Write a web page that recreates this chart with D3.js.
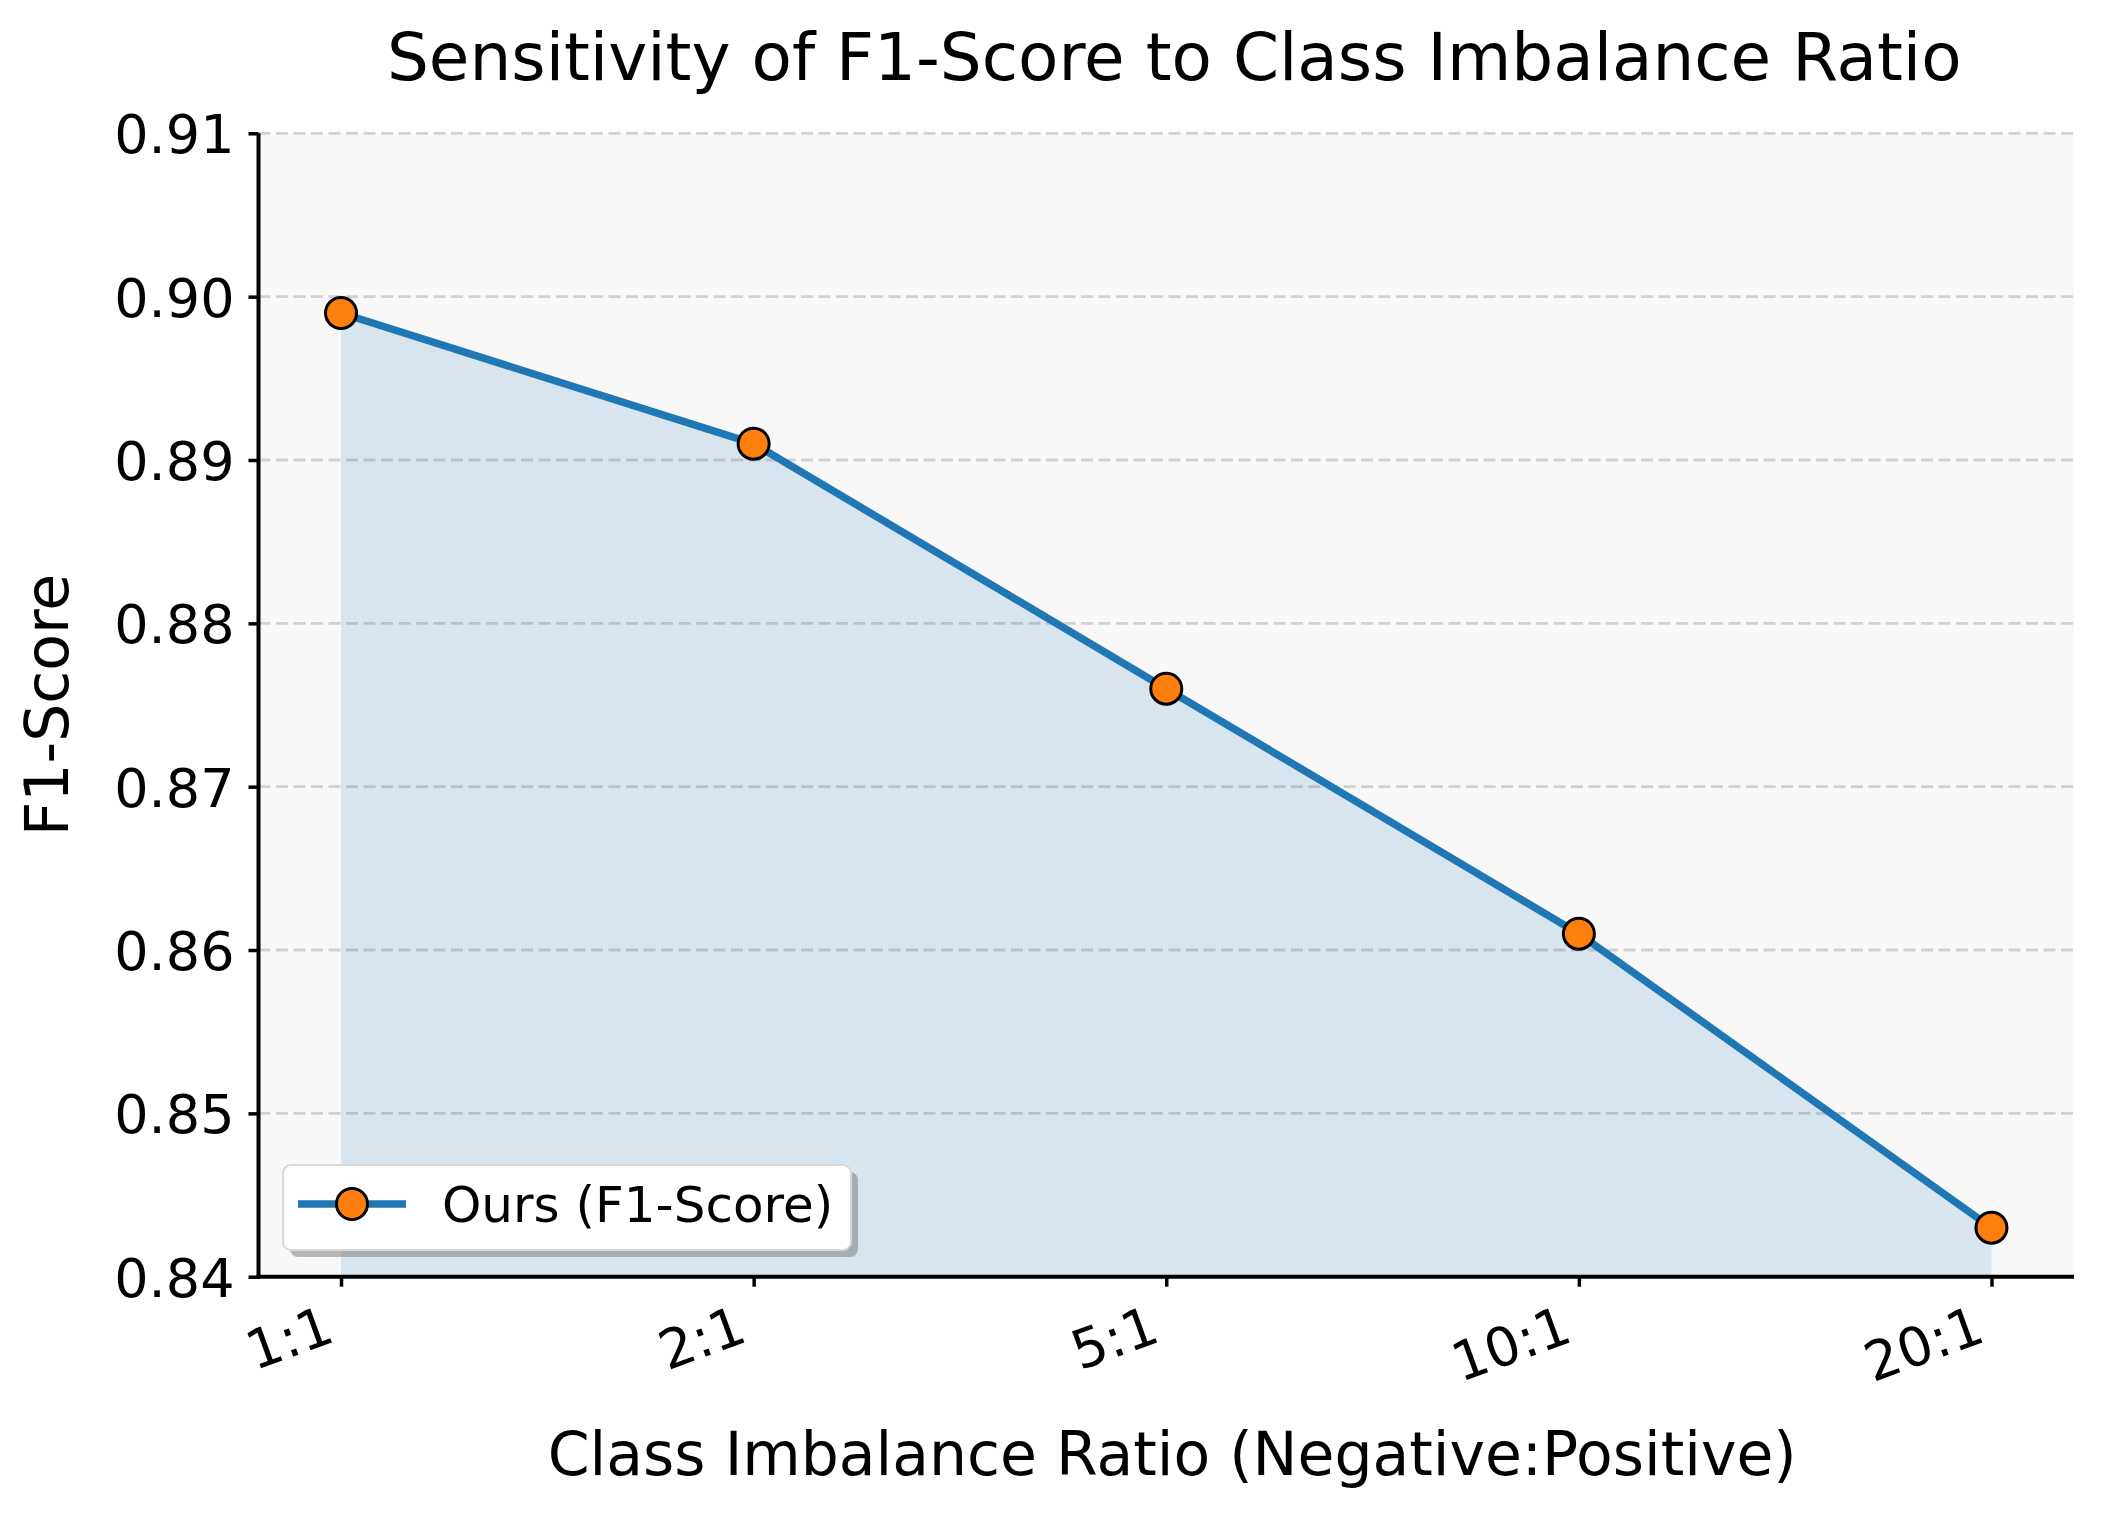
<!DOCTYPE html>
<html>
<head>
<meta charset="utf-8">
<script src="https://cdn.jsdelivr.net/npm/d3@7"></script>
<style>
  html, body { margin: 0; padding: 0; background: #ffffff; }
  svg { display: block; font-family: "DejaVu Sans", sans-serif; }
</style>
</head>
<body>
<svg id="chart" width="2106" height="1520"></svg>
<script>
// ---- data ----
const categories = ["1:1", "2:1", "5:1", "10:1", "20:1"];
const f1Scores = [0.899, 0.891, 0.876, 0.861, 0.843];
const yTicks = [0.84, 0.85, 0.86, 0.87, 0.88, 0.89, 0.90, 0.91];
const titleText = "Sensitivity of F1-Score to Class Imbalance Ratio";
const xLabelText = "Class Imbalance Ratio (Negative:Positive)";
const yLabelText = "F1-Score";
const legendLabel = "Ours (F1-Score)";

// ---- layout ----
const W = 2106, H = 1520;
const margin = { left: 258.5, right: W - 2074, top: 133.3, bottom: H - 1276.7 };
const plotW = W - margin.left - margin.right;
const plotH = H - margin.top - margin.bottom;

const svg = d3.select("#chart");

const g = svg.append("g").attr("transform", `translate(${margin.left},${margin.top})`);

const x = d3.scalePoint().domain(categories).range([0, plotW]).padding(0.2);
const y = d3.scaleLinear().domain([0.84, 0.91]).range([plotH, 0]);

// background
g.append("rect").attr("x", 0).attr("y", 0).attr("width", plotW).attr("height", plotH)
  .attr("fill", "#f8f8f8");

// grid
g.append("g").selectAll("line").data(yTicks.filter(d => d > 0.84)).join("line")
  .attr("x1", 0).attr("x2", plotW)
  .attr("y1", d => y(d)).attr("y2", d => y(d))
  .attr("stroke", "#c4c4c4").attr("stroke-opacity", 0.75)
  .attr("stroke-width", 2.8).attr("stroke-dasharray", "12,5.5");

const data = categories.map((c, i) => ({ c, v: f1Scores[i] }));

// area fill
const area = d3.area().x(d => x(d.c)).y0(y(0.84)).y1(d => y(d.v));
g.append("path").datum(data).attr("d", area)
  .attr("fill", "#1f77b4").attr("fill-opacity", 0.15);

// line
const line = d3.line().x(d => x(d.c)).y(d => y(d.v));
g.append("path").datum(data).attr("d", line)
  .attr("fill", "none").attr("stroke", "#1f77b4").attr("stroke-width", 7.5)
  .attr("stroke-linejoin", "round");

// markers
g.append("g").selectAll("circle").data(data).join("circle")
  .attr("cx", d => x(d.c)).attr("cy", d => y(d.v)).attr("r", 15.5)
  .attr("fill", "#ff7f0e").attr("stroke", "#000").attr("stroke-width", 3);

// axes
const yAxis = d3.axisLeft(y).tickValues(yTicks).tickFormat(d3.format(".2f"))
  .tickSize(10).tickPadding(14);
const yg = g.append("g").call(yAxis);
yg.select(".domain").remove();
yg.selectAll(".tick line").attr("stroke", "#000").attr("stroke-width", 3.5);
yg.selectAll(".tick text").attr("font-size", 54).attr("fill", "#000")
  .attr("font-family", "DejaVu Sans").attr("dy", "0.36em");

const xAxis = d3.axisBottom(x).tickSize(10).tickPadding(0);
const xg = g.append("g").attr("transform", `translate(0,${plotH})`).call(xAxis);
xg.select(".domain").remove();
xg.selectAll(".tick line").attr("stroke", "#000").attr("stroke-width", 3.5);
xg.selectAll(".tick text").attr("font-size", 54).attr("fill", "#000")
  .attr("font-family", "DejaVu Sans")
  .attr("text-anchor", "end").attr("dy", null).attr("y", null)
  .attr("transform", "translate(-5,64) rotate(-20)");

// spines
g.append("line").attr("x1", 0).attr("x2", 0).attr("y1", 0).attr("y2", plotH + 2)
  .attr("stroke", "#000").attr("stroke-width", 4);
g.append("line").attr("x1", -2).attr("x2", plotW).attr("y1", plotH).attr("y2", plotH)
  .attr("stroke", "#000").attr("stroke-width", 4);

// legend
const lg = g.append("g").attr("transform", `translate(${283 - margin.left},${1165 - margin.top})`);
const lw = 568, lh = 85;
lg.append("rect").attr("x", 7).attr("y", 7).attr("width", lw).attr("height", lh)
  .attr("rx", 8).attr("fill", "#808080").attr("fill-opacity", 0.55);
lg.append("rect").attr("x", 0).attr("y", 0).attr("width", lw).attr("height", lh)
  .attr("rx", 8).attr("fill", "#ffffff").attr("stroke", "#d8d8d8").attr("stroke-width", 2);
lg.append("line").attr("x1", 15).attr("x2", 123).attr("y1", 39).attr("y2", 39)
  .attr("stroke", "#1f77b4").attr("stroke-width", 7.5);
lg.append("circle").attr("cx", 69).attr("cy", 39).attr("r", 15.5)
  .attr("fill", "#ff7f0e").attr("stroke", "#000").attr("stroke-width", 3);
lg.append("text").attr("x", 159).attr("y", 57).attr("font-size", 50)
  .attr("fill", "#000").text(legendLabel);

// title & labels
svg.append("text").attr("x", margin.left + plotW / 2 + 8).attr("y", 80)
  .attr("text-anchor", "middle").attr("font-size", 66).attr("fill", "#000").text(titleText);
svg.append("text").attr("x", margin.left + plotW / 2 + 6).attr("y", 1475)
  .attr("text-anchor", "middle").attr("font-size", 60).attr("fill", "#000").text(xLabelText);
svg.append("text").attr("transform", `translate(68,${margin.top + plotH / 2}) rotate(-90)`)
  .attr("text-anchor", "middle").attr("font-size", 60).attr("fill", "#000").text(yLabelText);
</script>
</body>
</html>
